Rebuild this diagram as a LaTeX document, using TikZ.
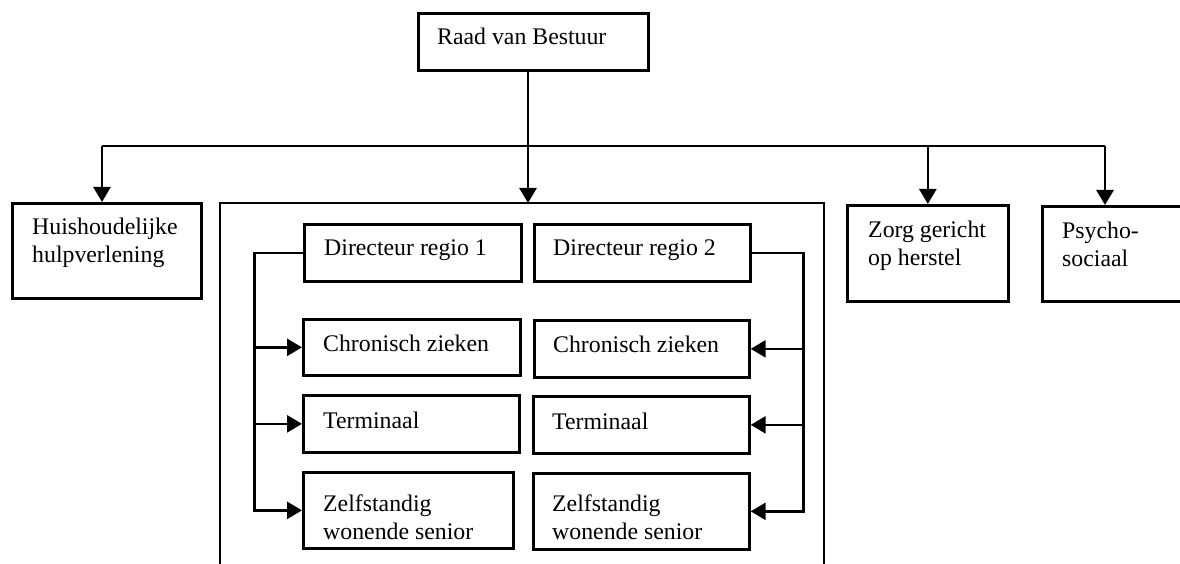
\documentclass[tikz,border=0pt]{standalone}
\usepackage{fontspec}
\setmainfont{Liberation Serif}
\usetikzlibrary{arrows.meta}
% two left-aligned lines whose baseline is that of the first line
\newcommand\stacked[2]{\vtop{\hbox{#1}\hbox{#2}}}
\begin{document}
\begin{tikzpicture}[x=1pt,y=-1pt,
  box/.style={draw, line width=2.7pt, anchor=north west, inner sep=0pt},
  frame/.style={anchor=north west, inner sep=0pt, outer sep=0pt},
  lbl/.style={anchor=base west, inner sep=0pt, font=\fontsize{23.8}{28}\selectfont},
  link/.style={line width=2.7pt},
  arr/.style={link, -{Triangle[length=15pt,width=17pt]}},
]
\useasboundingbox (0,0) rectangle (1180,564);

% top level
\node[box, minimum width=230pt, minimum height=57pt] (raad) at (417,12) {};
\node[lbl] (raad-t) at ([shift={(20,33)}]raad.north west) {Raad van Bestuur};

% departments
\node[box, minimum width=189pt, minimum height=95pt] (hh) at (11,202) {};
\node[lbl] (hh-t) at ([shift={(21,32)}]hh.north west) {\stacked{Huishoudelijke}{hulpverlening}};

\node[frame, minimum width=604pt, minimum height=370pt] (grp) at (220,203) {};
\draw[link] (grp.south west) -- (grp.north west) -- (grp.north east) -- (grp.south east);

\node[box, minimum width=161pt, minimum height=96pt] (zorg) at (846,204) {};
\node[lbl] (zorg-t) at ([shift={(22,33)}]zorg.north west) {\stacked{Zorg gericht}{op herstel}};

\node[box, minimum width=160pt, minimum height=95pt] (psy) at (1041,205) {};
\node[lbl] (psy-t) at ([shift={(21,33)}]psy.north west) {\stacked{Psycho-}{sociaal}};

% regions
\node[box, minimum width=217pt, minimum height=57pt] (d1) at (303,223) {};
\node[lbl] (d1-t) at ([shift={(21,32)}]d1.north west) {Directeur regio 1};
\node[box, minimum width=216pt, minimum height=57pt] (d2) at (533,223) {};
\node[lbl] (d2-t) at ([shift={(20,32)}]d2.north west) {Directeur regio 2};

\node[box, minimum width=217pt, minimum height=56pt] (c1) at (302,318) {};
\node[lbl] (c1-t) at ([shift={(21,33)}]c1.north west) {Chronisch zieken};
\node[box, minimum width=215pt, minimum height=57pt] (c2) at (533,319) {};
\node[lbl] (c2-t) at ([shift={(20,33)}]c2.north west) {Chronisch zieken};

\node[box, minimum width=216pt, minimum height=57pt] (t1) at (302,394) {};
\node[lbl] (t1-t) at ([shift={(21,34)}]t1.north west) {Terminaal};
\node[box, minimum width=216pt, minimum height=57pt] (t2) at (532,395) {};
\node[lbl] (t2-t) at ([shift={(20,34)}]t2.north west) {Terminaal};

\node[box, minimum width=210pt, minimum height=76pt] (z1) at (302,471) {};
\node[lbl] (z1-t) at ([shift={(21,40)}]z1.north west) {\stacked{Zelfstandig}{wonende senior}};
\node[box, minimum width=216pt, minimum height=76pt] (z2) at (532,472) {};
\node[lbl] (z2-t) at ([shift={(20,39)}]z2.north west) {\stacked{Zelfstandig}{wonende senior}};

% distribution line below the board
\coordinate (bus) at (528,146);
\coordinate (busL) at (102,146);
\coordinate (busR) at (1105,146);
\draw[link] (busL) -- (busR);
\draw[arr] (raad.south -| bus) -- (bus |- grp.north);
\draw[arr] (busL) -- (busL |- hh.north);
\draw[arr] (zorg.north |- bus) -- (zorg.north);
\draw[arr] (busR) -- (busR |- psy.north);

% region 1 feeds its teams from the left
\coordinate (lx) at (254.5,0);
\draw[arr] (d1.west) -- (d1.west -| lx) -- (z1.west -| lx) -- (z1.west);
\draw[arr] (c1.west -| lx) -- (c1.west);
\draw[arr] (t1.west -| lx) -- (t1.west);

% region 2 feeds its teams from the right
\coordinate (rx) at (803.5,0);
\draw[arr] (d2.east) -- (d2.east -| rx) -- (z2.east -| rx) -- (z2.east);
\draw[arr] (c2.east -| rx) -- (c2.east);
\draw[arr] (t2.east -| rx) -- (t2.east);
\end{tikzpicture}
\end{document}
